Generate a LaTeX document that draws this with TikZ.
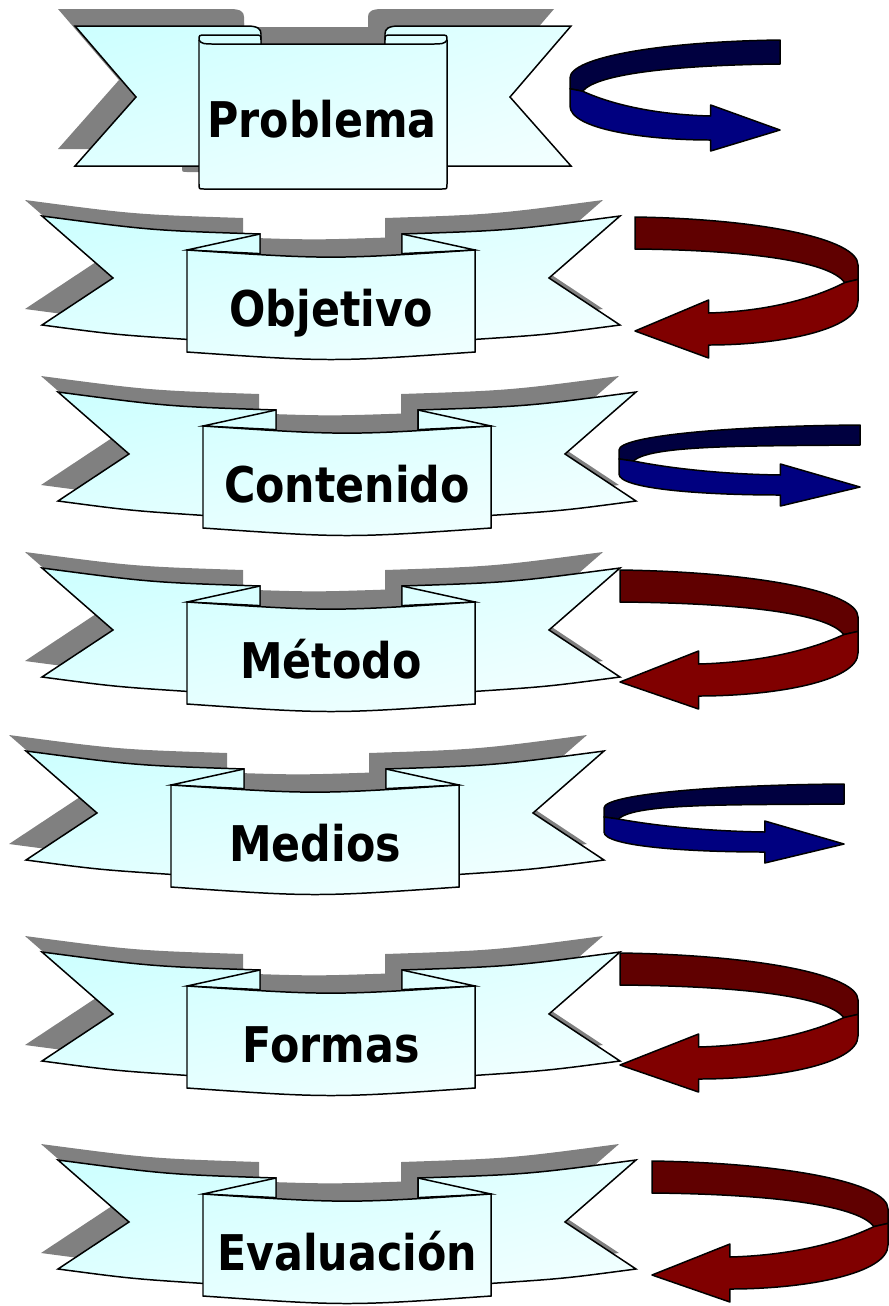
\documentclass[tikz,border=0pt]{standalone}
\usepackage{fontspec}
\setmainfont{DejaVu Sans}
\newfontfamily\ribbonfont{DejaVu Sans}[FakeStretch=0.87]
\usetikzlibrary{shadings}

% curved ribbon: name, centre x, top y, label
\newcommand{\bowribbon}[4]{%
  \begin{scope}[shift={(#2,#3)}, ribbonpart/.style={draw=black, line width=0.85pt,
      path picture={\shade[upper left=ribcyan, upper right=ribmid, lower left=ribmid, lower right=ribwhite] (-289,0) rectangle (289,146);}}]
    % shadow
    \fill[ribshadow, shift={(-17,-16)}] (-289,0) .. controls (-180,14.4) .. (-71,18) -- (-71,37.6) .. controls (0,39.9) .. (71,37.6) -- (71,18) .. controls (180,14.4) .. (289,0) -- (218,62) -- (289,109) .. controls (216.5,118.6) .. (144,123.4) -- (144,136) .. controls (0,146) .. (-144,136) -- (-144,123.4) .. controls (-216.5,118.6) .. (-289,109) -- (-218,62) -- cycle;
    % wings
    \path[ribbonpart] (-289,0) .. controls (-180,14.4) .. (-71,18) -- (-71,110) -- (-144,123.4) .. controls (-216.5,118.6) .. (-289,109) -- (-218,62) -- cycle;
    \path[ribbonpart] (289,0) .. controls (180,14.4) .. (71,18) -- (71,110) -- (144,123.4) .. controls (216.5,118.6) .. (289,109) -- (218,62) -- cycle;
    % folds
    \path[ribbonpart] (-144,34) -- (-71,18) -- (-71,37.6) -- cycle;
    \path[ribbonpart] (144,34) -- (71,18) -- (71,37.6) -- cycle;
    % middle
    \path[ribbonpart] (-144,34) .. controls (0,43.5) .. (144,34) -- (144,136) .. controls (0,146) .. (-144,136) -- cycle;
    \node[ribbontext] (#1) at (0,110) {#4};
  \end{scope}}

% turning arrow: tail x, tail y, width, drop, band, head overhang, side (1 or -1), colour
\newcommand{\turnarrow}[8]{%
  \begin{scope}[shift={(#1,#2)}, xscale=#7]
    \pgfmathsetmacro{\arw}{#3}
    \pgfmathsetmacro{\ard}{#4}
    \pgfmathsetmacro{\art}{#5}
    \pgfmathsetmacro{\are}{#6}
    \pgfmathsetmacro{\ars}{0.5*\ard}
    \pgfmathsetmacro{\arl}{0.33*\arw}
    \pgfmathsetmacro{\arj}{\ars+0.55*\art}
    % inner face
    \filldraw[arrowline, fill=#8dark] (0,0) .. controls (0.56*\arw,0.04*\ars) and (\arw,0.45*\ars) .. (\arw,\ars) -- (\arw,\ars+0.45*\art) -- (0.94*\arw,\arj) .. controls (0.87*\arw,\ars-5) and (0.47*\arw,\art+1) .. (0,\art) -- cycle;
    % outer face with head
    \filldraw[arrowline, fill=#8face] (\arw,\ars+0.45*\art) -- (\arw,\ars+\art+4) .. controls (\arw,\ars+\art+4+0.6*\ard-0.6*\ars) and (0.65*\arw,\ard+\art) .. (\arl,\ard+\art) -- (\arl,\ard+\art+\are) -- (0,\ard+0.5*\art+2) -- (\arl,\ard-\are) -- (\arl,\ard) .. controls (0.56*\arw,\ard-0.03*\ard+0.03*\ars) and (0.78*\arw,\ard-0.25*\ard+0.25*\ars) .. (0.94*\arw,\arj) -- cycle;
  \end{scope}}

\begin{document}
\begin{tikzpicture}[x=0.02cm, y=-0.02cm,
    ribbontext/.style={anchor=base, font=\ribbonfont\fontsize{28}{34}\selectfont\bfseries, inner sep=0pt},
    ribshadow/.style={fill=shadowgray},
    arrowline/.style={draw=black, line width=0.85pt, line join=round}]
  \definecolor{ribcyan}{RGB}{204,255,255}
  \definecolor{ribmid}{RGB}{226,255,255}
  \definecolor{ribwhite}{RGB}{246,255,255}
  \definecolor{shadowgray}{RGB}{128,128,128}
  \definecolor{bluedark}{RGB}{0,0,64}
  \definecolor{blueface}{RGB}{0,0,128}
  \definecolor{reddark}{RGB}{96,0,0}
  \definecolor{redface}{RGB}{128,0,0}

  \useasboundingbox (0,0) rectangle (889,1306);

  % Problema scroll
  \begin{scope}[ribbonpart/.style={draw=black, line width=0.85pt,
      path picture={\shade[upper left=ribcyan, upper right=ribmid, lower left=ribmid, lower right=ribwhite] (75,26) rectangle (571,189);}}]
    \begin{scope}[shift={(-17,-17)}]
      \fill[ribshadow] (75,26) -- (247,26) .. controls (258,26) and (261,29) .. (261,34) -- (261,166) -- (75,166) -- (136,97) -- cycle;
      \fill[ribshadow] (571,26) -- (399,26) .. controls (388,26) and (385,29) .. (385,34) -- (385,166) -- (571,166) -- (510,97) -- cycle;
      \fill[ribshadow] (199,184) -- (199,40) .. controls (199,35) .. (206,35) -- (254,35) .. controls (261,35) .. (261,40) -- (261,44) -- (385,44) -- (385,40) .. controls (385,35) .. (392,35) -- (440,35) .. controls (447,35) .. (447,40) -- (447,184) .. controls (447,189) .. (442,189) -- (204,189) .. controls (199,189) .. (199,184) -- cycle;
    \end{scope}
    \path[ribbonpart] (75,26) -- (247,26) .. controls (258,26) and (261,29) .. (261,34) -- (261,166) -- (75,166) -- (136,97) -- cycle;
    \path[ribbonpart] (571,26) -- (399,26) .. controls (388,26) and (385,29) .. (385,34) -- (385,166) -- (571,166) -- (510,97) -- cycle;
    \path[ribbonpart] (199,184) -- (199,40) .. controls (199,35) .. (206,35) -- (254,35) .. controls (261,35) .. (261,40) -- (261,44) -- (385,44) -- (385,40) .. controls (385,35) .. (392,35) -- (440,35) .. controls (447,35) .. (447,40) -- (447,184) .. controls (447,189) .. (442,189) -- (204,189) .. controls (199,189) .. (199,184) -- cycle;
    \draw[line width=0.85pt] (199,40) .. controls (201,44) and (206,44) .. (212,44) -- (261,44);
    \draw[line width=0.85pt] (385,44) -- (434,44) .. controls (440,44) and (445,44) .. (447,40);
    \node[ribbontext] (problema) at (322,137) {Problema};
  \end{scope}

  % Curved ribbons
  \bowribbon{objetivo}{331}{216}{Objetivo}
  \bowribbon{contenido}{347}{392}{Contenido}
  \bowribbon{metodo}{331}{568}{Método}
  \bowribbon{medios}{315}{751}{Medios}
  \bowribbon{formas}{331}{952}{Formas}
  \bowribbon{evaluacion}{347}{1160}{Evaluación}

  % Arrows
  \turnarrow{780}{40}{210}{76}{24}{11}{-1}{blue}
  \turnarrow{635}{217}{223}{96}{32}{13}{1}{red}
  \turnarrow{860}{425}{241}{50}{20}{11}{-1}{blue}
  \turnarrow{620}{570}{238}{94}{32}{13}{1}{red}
  \turnarrow{844}{784}{240}{48}{20}{11}{-1}{blue}
  \turnarrow{620}{953}{238}{94}{32}{13}{1}{red}
  \turnarrow{652}{1161}{236}{96}{32}{13}{1}{red}
\end{tikzpicture}
\end{document}
